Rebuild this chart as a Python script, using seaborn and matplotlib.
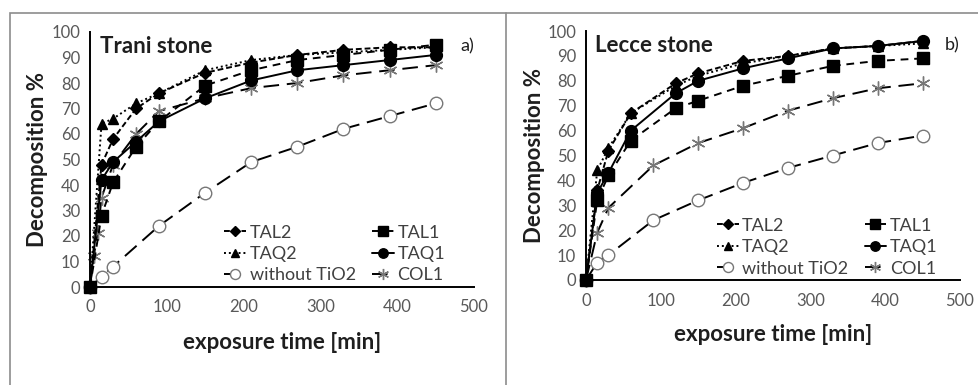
import matplotlib
matplotlib.use("Agg")
import matplotlib.pyplot as plt
from matplotlib.lines import Line2D
from matplotlib.patches import Rectangle
import seaborn as sns
import pandas as pd

sns.set_theme(style="white")
plt.rcParams["font.family"] = ["Lato", "DejaVu Sans"]

# ---- Trani stone (panel a) ----
trani_t_main = [0, 15, 30, 60, 90, 150, 210, 270, 330, 390, 450]
trani_TAL2 = [0, 48, 58, 70, 76, 84, 88, 91, 93, 94, 94]
trani_TAL1 = [0, 28, 41, 55, 65, 79, 85, 89, 91, 93, 95]
trani_TAQ2 = [0, 64, 66, 72, 76, 85, 89, 91, 92, 93, 94]
trani_TAQ1 = [0, 42, 49, 57, 65, 74, 81, 85, 87, 89, 91]
trani_t_col1 = [0, 5, 10, 15, 30, 60, 90, 150, 210, 270, 330, 390, 450]
trani_COL1 = [0, 12, 21, 35, 48, 60, 69, 74, 78, 80, 83, 85, 87]
trani_t_blank = [0, 15, 30, 90, 150, 210, 270, 330, 390, 450]
trani_blank = [0, 4, 8, 24, 37, 49, 55, 62, 67, 72]

# ---- Lecce stone (panel b) ----
lecce_t_main = [0, 15, 30, 60, 120, 150, 210, 270, 330, 390, 450]
lecce_TAL2 = [0, 36, 52, 67, 79, 83, 88, 90, 93, 94, 96]
lecce_TAL1 = [0, 32, 42, 56, 69, 72, 78, 82, 86, 88, 89]
lecce_TAQ2 = [0, 44, 53, 67, 78, 82, 87, 90, 93, 94, 95]
lecce_TAQ1 = [0, 35, 43, 60, 75, 80, 85, 89, 93, 94, 96]
lecce_t_other = [0, 15, 30, 90, 150, 210, 270, 330, 390, 450]
lecce_COL1 = [0, 19, 29, 46, 55, 61, 68, 73, 77, 79]
lecce_blank = [0, 7, 10, 24, 32, 39, 45, 50, 55, 58]

styles = {
    "TAL2": dict(marker="D", ms=6, ls=(0, (3, 1.5)), mfc="black", mec="black"),
    "TAL1": dict(marker="s", ms=9, ls=(0, (4, 3)), mfc="black", mec="black"),
    "TAQ2": dict(marker="^", ms=7.5, ls=(0, (1, 1.5)), mfc="black", mec="black"),
    "TAQ1": dict(marker="o", ms=8.5, ls="-", mfc="black", mec="black"),
    "without TiO2": dict(marker="o", ms=9, ls=(0, (8, 4)), mfc="white", mec="#777777"),
    "COL1": dict(marker=(6, 2, 0), ms=10, ls=(0, (8, 4)), mfc="#777777", mec="#777777"),
}

panels = [
    dict(title="Trani stone", tag="a)",
         pos=[90 / 979, 1 - 287 / 385, 384 / 979, 255 / 385],
         legend_anchor=(0.35, 0.245), ylab_x=-0.11, xlab_y=-0.175,
         data={"TAL2": (trani_t_main, trani_TAL2), "TAL1": (trani_t_main, trani_TAL1),
               "TAQ2": (trani_t_main, trani_TAQ2), "TAQ1": (trani_t_main, trani_TAQ1),
               "without TiO2": (trani_t_blank, trani_blank), "COL1": (trani_t_col1, trani_COL1)}),
    dict(title="Lecce stone", tag="b)",
         pos=[586 / 979, 1 - 280 / 385, 374 / 979, 249 / 385],
         legend_anchor=(0.35, 0.25), ylab_x=-0.11, xlab_y=-0.175,
         data={"TAL2": (lecce_t_main, lecce_TAL2), "TAL1": (lecce_t_main, lecce_TAL1),
               "TAQ2": (lecce_t_main, lecce_TAQ2), "TAQ1": (lecce_t_main, lecce_TAQ1),
               "without TiO2": (lecce_t_other, lecce_blank), "COL1": (lecce_t_other, lecce_COL1)}),
]

fig = plt.figure(figsize=(9.79, 3.85), dpi=100)

# panel frames
fig.add_artist(Rectangle((10 / 979, -0.05), 1.1, 1 - 13 / 385 + 0.05, transform=fig.transFigure,
                         fill=False, ec="#8c8c8c", lw=1.2))
fig.add_artist(Line2D([506 / 979, 506 / 979], [0, 1 - 13 / 385], transform=fig.transFigure,
                      color="#8c8c8c", lw=1.2))

tick_color = "#595959"
text_color = "#1e1e1e"
for p in panels:
    ax = fig.add_axes(p["pos"])
    draw_order = ["without TiO2", "COL1", "TAL1", "TAQ1", "TAL2", "TAQ2"]
    for name in draw_order:
        t, v = p["data"][name]
        df = pd.DataFrame({"t": t, "v": v})
        st = styles[name]
        sns.lineplot(data=df, x="t", y="v", ax=ax, color="black", label=name,
                     marker=st["marker"], markersize=st["ms"], linestyle=st["ls"],
                     markerfacecolor=st["mfc"], markeredgecolor=st["mec"],
                     linewidth=1.4, markeredgewidth=1.0, legend=False, clip_on=False)
    ax.set_xlim(0, 500)
    ax.set_ylim(0, 100)
    ax.set_xticks(range(0, 501, 100))
    ax.set_yticks(range(0, 101, 10))
    for s in ["top", "right"]:
        ax.spines[s].set_visible(False)
    for s in ["left", "bottom"]:
        ax.spines[s].set_color("black")
        ax.spines[s].set_linewidth(1.4)
    ax.tick_params(axis="both", colors="black", labelcolor=tick_color, labelsize=12,
                   direction="out", length=4, width=1.3, pad=3)
    ax.tick_params(axis="x", direction="inout", length=6, pad=6)
    ax.set_xlabel("exposure time [min]", fontsize=16, fontweight="bold", color=text_color)
    ax.set_ylabel("Decomposition %", fontsize=16, fontweight="bold", color=text_color)
    ax.xaxis.set_label_coords(0.5, p["xlab_y"])
    ax.yaxis.set_label_coords(p["ylab_x"], 0.5)
    ax.text(0.025, 0.985, p["title"], transform=ax.transAxes, fontsize=16, fontweight="bold",
            color=text_color, va="top", ha="left")
    ax.text(1.0, 0.975, p["tag"], transform=ax.transAxes, fontsize=13, color=text_color,
            va="top", ha="right")

    handles = {line.get_label(): line for line in ax.get_lines()}
    order = ["TAL2", "TAQ2", "without TiO2", "TAL1", "TAQ1", "COL1"]
    leg = ax.legend([handles[n] for n in order], order, ncol=2, frameon=False,
                    loc="upper left", bbox_to_anchor=p["legend_anchor"], borderpad=0,
                    borderaxespad=0, fontsize=13, handlelength=1.2, handletextpad=0.2,
                    columnspacing=0.9, labelspacing=0.3, markerscale=0.8)
    for txt in leg.get_texts():
        txt.set_color("#404040")
    ax.set_facecolor("none")

fig.savefig("out.png", dpi=100)
